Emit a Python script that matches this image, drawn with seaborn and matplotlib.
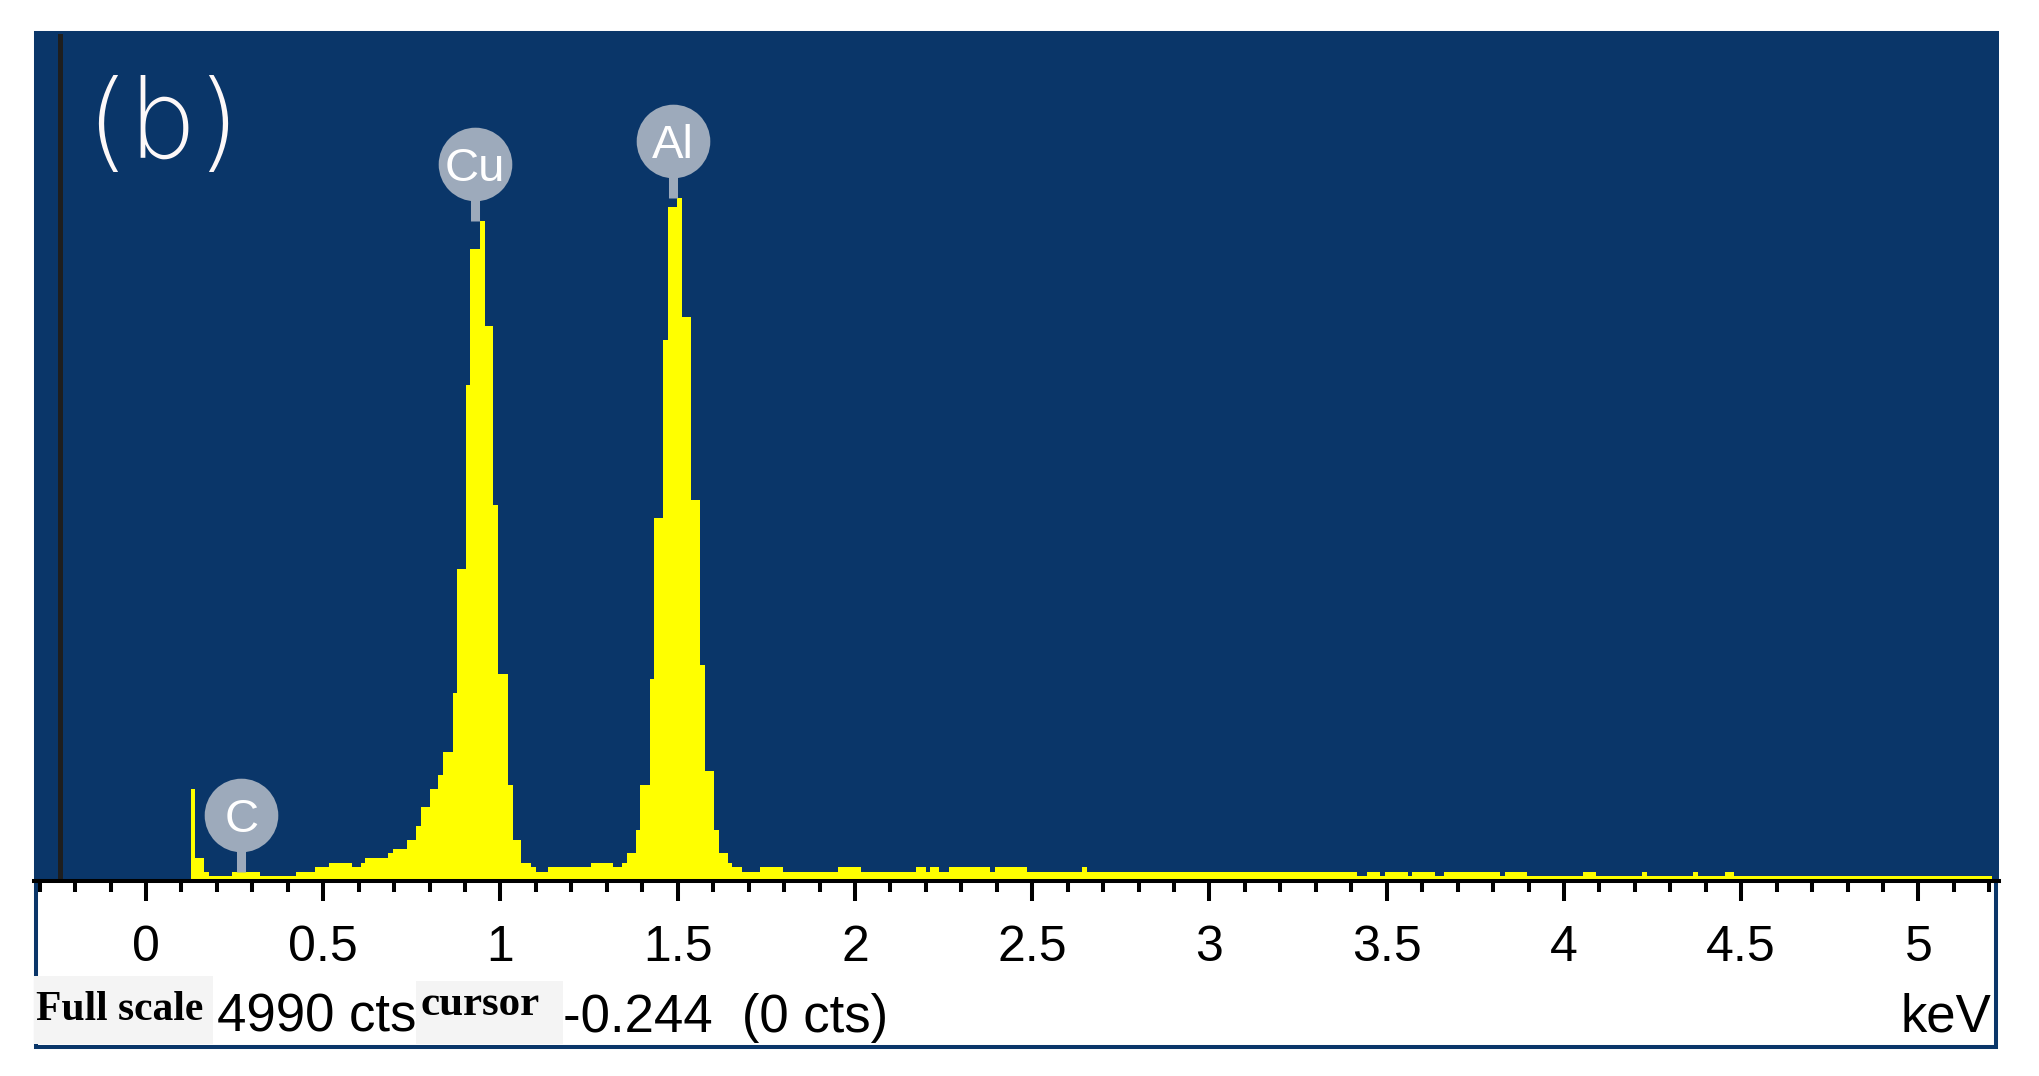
import matplotlib
matplotlib.use("Agg")
import matplotlib.pyplot as plt
from matplotlib.patches import Rectangle
from matplotlib.ticker import FixedLocator, MultipleLocator
import seaborn as sns

# EDS spectrum: bin edges (keV) and counts per bin
edges_kev = [0.127, 0.138, 0.163, 0.177, 0.242, 0.321, 0.423, 0.476, 0.515, 0.580,
             0.606, 0.617, 0.682, 0.696, 0.735, 0.761, 0.775, 0.800, 0.825, 0.839,
             0.865, 0.876, 0.904, 0.915, 0.941, 0.955, 0.980, 0.994, 1.020, 1.034,
             1.059, 1.085, 1.099, 1.135, 1.254, 1.318, 1.344, 1.358, 1.383, 1.394,
             1.423, 1.434, 1.459, 1.473, 1.499, 1.513, 1.538, 1.563, 1.577, 1.603,
             1.617, 1.642, 1.654, 1.682, 1.732, 1.797, 1.952, 2.017, 2.172, 2.200,
             2.211, 2.237, 2.265, 2.380, 2.394, 2.485, 2.639, 2.654, 3.417, 3.445,
             3.482, 3.496, 3.561, 3.572, 3.637, 3.662, 3.820, 3.834, 3.896, 4.054,
             4.090, 4.220, 4.234, 4.363, 4.377, 4.454, 4.479, 5.206]
counts = [541, 135, 53, 29, 53, 29, 53, 82, 106, 82,
          106, 135, 165, 188, 241, 323, 435, 541, 623, 758,
          1105, 1834, 2915, 3720, 3885, 3262, 2210, 1217, 564, 241,
          106, 82, 53, 82, 106, 82, 106, 165, 300, 564,
          1187, 2133, 3185, 3967, 4020, 3320, 2239, 1269, 646, 300,
          165, 106, 82, 53, 82, 53, 82, 53, 82, 53,
          82, 53, 82, 53, 82, 53, 82, 53, 29, 53,
          29, 53, 29, 53, 29, 53, 29, 53, 29, 53,
          29, 53, 29, 53, 29, 53, 29]

# element markers
peak_names = ['C', 'Cu', 'Al']
peak_kev = [0.269, 0.928, 1.486]
peak_top = [53, 3885, 4020]
marker_cts = [388, 4217, 4353]

major_ticks = [0, 0.5, 1, 1.5, 2, 2.5, 3, 3.5, 4, 4.5, 5]
tick_labels = ['0', '0.5', '1', '1.5', '2', '2.5', '3', '3.5', '4', '4.5', '5']

full_scale = 4990
cursor_kev = -0.244
cursor_cts = 0

BLUE = '#0a3669'
YELLOW = '#ffff00'
GREY = '#9daabb'

W, H = 2040, 1076


def fx(px):
    return px / W


def fy(py):
    return 1 - py / H


plt.rcParams['font.family'] = ['Liberation Sans', 'DejaVu Sans']
fig = plt.figure(figsize=(W / 100, H / 100), dpi=100)
fig.patch.set_facecolor('white')

# outer frame of the instrument window
frame = Rectangle((fx(36.5), fy(1047)), fx(1996.5) - fx(36.5), fy(33) - fy(1047),
                  transform=fig.transFigure, facecolor='white', edgecolor=BLUE,
                  linewidth=2.9, zorder=-1)
fig.add_artist(frame)

ax = fig.add_axes([fx(34), fy(881), fx(1999) - fx(34), fy(31) - fy(881)])
ax.set_facecolor(BLUE)

centers = [(a + b) / 2 for a, b in zip(edges_kev[:-1], edges_kev[1:])]
sns.histplot(x=centers, weights=counts, bins=edges_kev, element='step', fill=True,
             color=YELLOW, alpha=1, linewidth=0, ax=ax)

ax.set_xlim((34 - 146) / 354.5, (1999 - 146) / 354.5)
ax.set_ylim(0, 5000)
ax.set_xlabel('')
ax.set_ylabel('')
ax.set_yticks([])

for side in ['top', 'left', 'right']:
    ax.spines[side].set_visible(False)
ax.spines['bottom'].set_color('black')
ax.spines['bottom'].set_linewidth(2.9)

ax.xaxis.set_major_locator(FixedLocator(major_ticks))
ax.set_xticklabels(tick_labels)
ax.xaxis.set_minor_locator(MultipleLocator(0.1))
ax.tick_params(axis='x', which='major', length=14.4, width=2.9, color='black',
               direction='out', pad=17, labelsize=36, labelcolor='black')
ax.tick_params(axis='x', which='minor', length=7.9, width=2.9, color='black',
               direction='out')

# cursor
ax.axvline(cursor_kev, ymin=0, ymax=(881 - 36) / 850, color='#1e1e1e', lw=3.6)

# element markers
for name, e, top, yc in zip(peak_names, peak_kev, peak_top, marker_cts):
    ax.plot([e, e], [top, yc], color=GREY, lw=6.5, solid_capstyle='butt', zorder=4)
    ax.plot(e, yc, 'o', ms=53, color=GREY, mew=0, zorder=5)
    ax.text(e, yc, name, ha='center', va='center_baseline', color='white',
            fontsize=34, zorder=6)

fig.text(fx(86), fy(158), '(b)', fontsize=78, color='#fdf8f8',
         family='DejaVu Sans', weight='light', va='baseline', ha='left')

# status bar
for x0, x1, y0, y1 in [(34, 213, 976, 1044), (416, 563, 981, 1044)]:
    fig.add_artist(Rectangle((fx(x0), fy(y1)), fx(x1) - fx(x0), fy(y0) - fy(y1),
                             transform=fig.transFigure, facecolor='#f4f4f4',
                             edgecolor='none', zorder=1))
fig.text(fx(36), fy(1020), 'Full scale', fontsize=30, family='Liberation Serif',
         weight='bold', va='baseline', ha='left')
fig.text(fx(217), fy(1032), f'{full_scale} cts', fontsize=38, va='baseline', ha='left')
fig.text(fx(421), fy(1015), 'cursor', fontsize=31, family='Liberation Serif',
         weight='bold', va='baseline', ha='left')
fig.text(fx(563), fy(1032), f'{cursor_kev:.3f}  ({cursor_cts} cts)', fontsize=38,
         va='baseline', ha='left')
fig.text(fx(1991), fy(1031), 'keV', fontsize=38, va='baseline', ha='right')

fig.savefig('out.png', dpi=100)
